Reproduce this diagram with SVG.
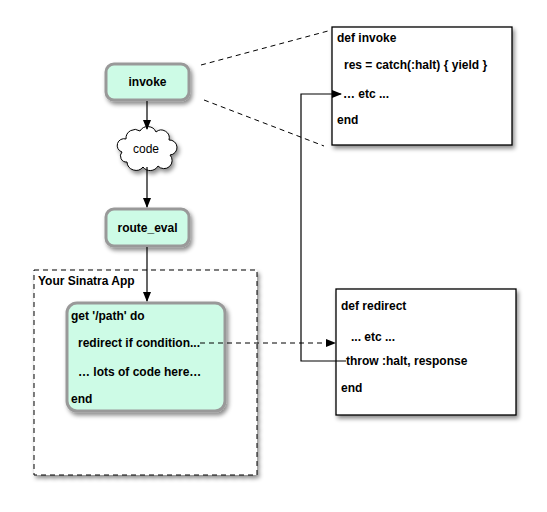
<svg xmlns="http://www.w3.org/2000/svg" width="547" height="512" viewBox="0 0 547 512">
<style>
text{font-family:"Liberation Sans",Arial,sans-serif;font-size:12px;font-weight:bold;fill:#000}
.node{fill:#cdfbe6;stroke:#999;stroke-width:3}
.code{fill:#fff;stroke:#000;stroke-width:1.3}
.c{stroke:#000;stroke-width:1.2;fill:none}
.d{stroke:#000;stroke-width:1;fill:none;stroke-dasharray:5,4}
</style>
<defs>
<marker id="ah" markerWidth="10" markerHeight="8" refX="9" refY="4" orient="auto" markerUnits="userSpaceOnUse">
<path d="M0,0 L10,4 L0,8 Z" fill="#000"/>
</marker>
<filter id="sh" x="-20%" y="-20%" width="150%" height="150%">
<feDropShadow dx="2" dy="3" stdDeviation="2" flood-color="#000" flood-opacity="0.45"/>
</filter>
</defs>
<rect width="547" height="512" fill="#fff"/>

<g id="sinatra-app">
<rect x="34" y="270" width="223" height="205" fill="#fff" stroke="#000" stroke-width="1" stroke-dasharray="5,4" filter="url(#sh)"/>
<text x="38" y="285">Your Sinatra App</text>
</g>

<g id="invoke">
<rect class="node" x="106" y="64" width="83" height="36" rx="8" filter="url(#sh)"/>
<text x="147.5" y="86" text-anchor="middle">invoke</text>
</g>

<g id="code">
<path d="M127,162 A6,6 0 0 1 122,152 A6,6 0 0 1 126,139 A9,9 0 0 1 140,131 A9,9 0 0 1 156,132 A8,8 0 0 1 169,140 A7,7 0 0 1 170,155 A8,8 0 0 1 158,166 A9,9 0 0 1 143,167 A9,9 0 0 1 127,162 Z" fill="#fff" stroke="#000" stroke-width="1" filter="url(#sh)"/>
<text x="146" y="153" text-anchor="middle" style="font-weight:normal">code</text>
</g>

<g id="route_eval">
<rect class="node" x="106" y="209" width="83" height="37" rx="8" filter="url(#sh)"/>
<text x="147.5" y="232" text-anchor="middle">route_eval</text>
</g>

<g id="get-path">
<rect class="node" x="67" y="303" width="158" height="108" rx="10" filter="url(#sh)"/>
<text x="71" y="320">get '/path' do</text>
<text x="78" y="347">redirect if condition...</text>
<text x="78" y="376">… lots of code here…</text>
<text x="71" y="403">end</text>
</g>

<g id="def-invoke">
<rect class="code" x="332" y="27" width="180" height="118" filter="url(#sh)"/>
<text x="337" y="42">def invoke</text>
<text x="344" y="69">res = catch(:halt) { yield }</text>
<text x="343" y="98">… etc ...</text>
<text x="337" y="124">end</text>
</g>

<g id="def-redirect">
<rect class="code" x="336" y="289" width="180" height="126" filter="url(#sh)"/>
<text x="341" y="310">def redirect</text>
<text x="351" y="341">... etc ...</text>
<text x="346" y="365">throw :halt, response</text>
<text x="341" y="392">end</text>
</g>

<g id="connectors">
<line class="c" x1="147" y1="101" x2="147" y2="129" marker-end="url(#ah)"/>
<line class="c" x1="147" y1="167" x2="147" y2="207" marker-end="url(#ah)"/>
<line class="c" x1="147" y1="247" x2="147" y2="301" marker-end="url(#ah)"/>
<line class="d" x1="201" y1="65" x2="328" y2="31"/>
<line class="d" x1="204" y1="100" x2="324" y2="146"/>
<line class="d" x1="200" y1="343" x2="335" y2="343" marker-end="url(#ah)"/>
<polyline class="c" points="346,361 301,361 301,94 341,94" marker-end="url(#ah)"/>
</g>
</svg>
